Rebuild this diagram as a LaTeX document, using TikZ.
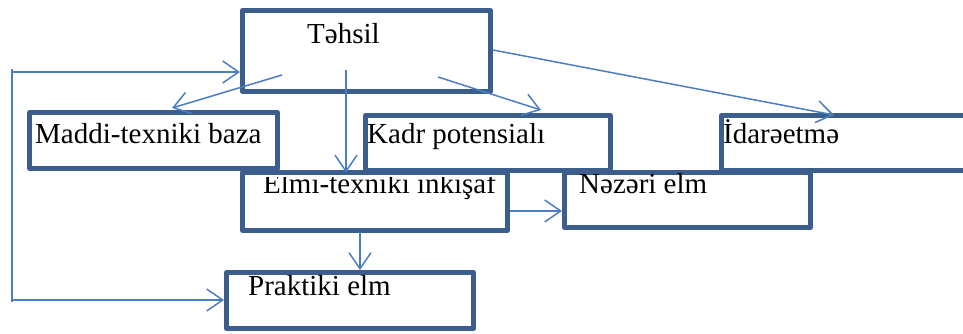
\documentclass[tikz,border=0pt]{standalone}
\usepackage{fontspec}
\setmainfont{Liberation Serif}
\usetikzlibrary{calc,arrows.meta}
\definecolor{boxblue}{HTML}{3B5E8C}
\definecolor{arrblue}{HTML}{4A7EC0}
\tikzset{
	blk/.style={draw=boxblue,line width=5pt,line join=round,outer sep=0pt,inner sep=0pt},
	lbl/.style={anchor=base west,inner sep=0pt,font=\fontsize{29pt}{34pt}\selectfont},
	arr/.style={draw=arrblue,line width=1.5pt,-{Straight Barb[length=16pt,width=22pt]}},
	fbline/.style={draw=arrblue,line width=1.5pt}
}
\newcommand{\makeblk}[5]{
	\node (#1) at (#2,#3) [blk,minimum width=#4pt,minimum height=#5pt] {};
}

\begin{document}
\begin{tikzpicture}[x=1pt,y=-1pt]
	\useasboundingbox (0,0) rectangle (963,333);
	\clip (0,0) rectangle (963,333);
	\makeblk{tehsil}{366.5}{51}{248}{81}
	\makeblk{elmi}{375}{201.5}{265}{58}
	\makeblk{maddi}{153.5}{140.5}{248}{56}
	\makeblk{kadr}{488}{143}{245}{55}
	\makeblk{idare}{871.5}{143}{300}{55}
	\makeblk{nezeri}{687.5}{200}{246}{55}
	\makeblk{praktiki}{350}{300.5}{247}{56}
	% text of the lower box is cut off at its top
	\begin{scope}
		\clip ($(elmi.north west) + (0,4.5)$) rectangle (elmi.south east);
		\node[lbl] (Lelmi) at ($(elmi.north west) + (20.5,20.5)$) {Elmi-texniki inkişaf};
	\end{scope}
		\node[lbl] (Ltehsil) at ($(tehsil.north west) + (64.5,32.5)$) {Təhsil};
		\node[lbl] (Lmaddi) at ($(maddi.north west) + (5.5,30.5)$) {Maddi-texniki baza};
		\node[lbl] (Lkadr) at ($(kadr.north west) + (1.5,27.5)$) {Kadr potensialı};
		\node[lbl] (Lidare) at ($(idare.north west) + (1.5,27.5)$) {İdarəetmə};
		\node[lbl] (Lnezeri) at ($(nezeri.north west) + (14.5,20.5)$) {Nəzəri elm};
		\node[lbl] (Lpraktiki) at ($(praktiki.north west) + (21.5,22.5)$) {Praktiki elm};
	% arrows out of Təhsil
	\draw[arr] ($(tehsil.south west) + (39.5,-16.5)$) -- ($(maddi.north west) + (142.5,-4.5)$);
	\draw[arr] ($(tehsil.south west) + (103.5,-21.5)$) -- ($(elmi.north west) + (103.5,0)$);
	\draw[arr] ($(tehsil.south west) + (195.5,-14.5)$) -- ($(kadr.north west) + (175.5,-5.5)$);
	\draw[arr] ($(tehsil.east) + (2.5,-1)$) -- ($(idare.north west) + (112.5,-0.5)$);
	% arrows out of Elmi-texniki inkişaf
	\draw[arr] ($(elmi.east) + (2.5,9.5)$) -- ($(nezeri.west) + (-2.5,11)$);
	\draw[arr] ($(elmi.south west) + (117.5,1.5)$) -- ($(praktiki.north west) + (133.5,-2.5)$);
	% feedback line on the left
	\coordinate (fbtop) at (12,69);
	\coordinate (fbbot) at (12,302);
	\draw[fbline] (fbtop) -- (fbbot);
	\draw[arr] ($(fbtop) + (0,3)$) -- ($(tehsil.west) + (-2.5,21)$);
	\draw[arr] ($(fbbot) + (0,-2)$) -- ($(praktiki.west) + (-2.5,-0.5)$);
\end{tikzpicture}
\end{document}
